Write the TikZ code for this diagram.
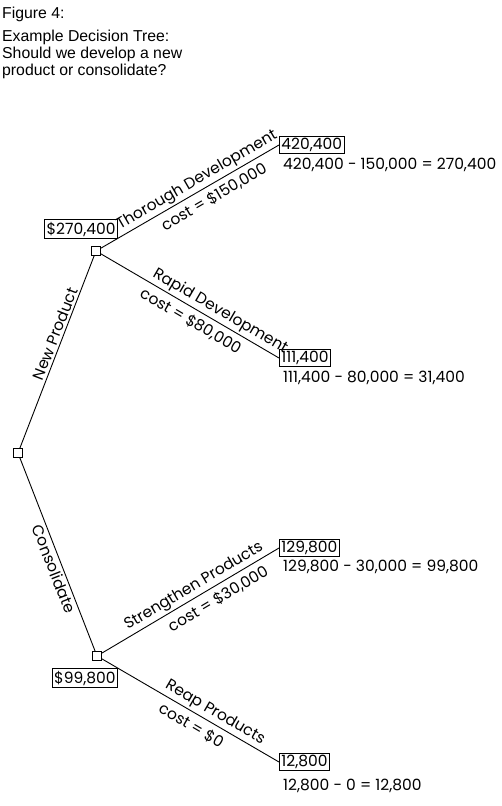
\documentclass[tikz,border=0pt]{standalone}
\usepackage{fontspec}
\setmainfont{Liberation Sans}
\newfontfamily\treefont{Poppins}
\usepackage{tikz}

\begin{document}
\begin{tikzpicture}[x=1pt,y=-1pt]
	\useasboundingbox (0,0) rectangle (502,806);
	\begin{scope}[every node/.style={font=\treefont\fontsize{15.5}{18}\selectfont},
		decision/.style={rectangle,draw,fill=white,minimum size=9pt,inner sep=0pt,line width=0.8pt},
		payoff/.style={rectangle,draw,line width=0.8pt,inner sep=2pt},
		branch/.style={line width=0.9pt},
		lbl/.style={sloped,inner sep=2pt},
		cost/.style={sloped,inner sep=5pt}]
	% titre
	\node (F) at (2,18) [anchor=base west,inner sep=0pt,font=\fontsize{15.8}{17}\selectfont] {Figure 4:};
	\node (T) at (2,30) [anchor=north west,inner sep=0pt,align=left,font=\fontsize{15.8}{17}\selectfont] {Example Decision Tree:\\Should we develop a new\\product or consolidate?};
	% description et nommage des noeuds
	\node (R) at (18,453) [decision] {};
	\node (A) at (96,251) [decision] {};
	\node (B) at (97,656) [decision] {};
	\node (VA) at (118,229) [payoff,anchor=east] {\$270,400};
	\node (VB) at (118,678) [payoff,anchor=east] {\$99,800};
	\node (L1) at (279,145) [payoff,anchor=west] {420,400};
	\node (L2) at (279,358) [payoff,anchor=west] {111,400};
	\node (L3) at (279,548) [payoff,anchor=west] {129,800};
	\node (L4) at (279,762) [payoff,anchor=west] {12,800};
	\node (E1) at (283,165) [anchor=west,inner sep=0pt] {420,400 - 150,000 = 270,400};
	\node (E2) at (283,378) [anchor=west,inner sep=0pt] {111,400 - 80,000 = 31,400};
	\node (E3) at (283,567) [anchor=west,inner sep=0pt] {129,800 - 30,000 = 99,800};
	\node (E4) at (283,786) [anchor=west,inner sep=0pt] {12,800 - 0 = 12,800};
	% branches
	\draw[branch] (R) -- node[lbl,above,pos=0.58] {New Product} (A);
	\draw[branch] (R) -- node[lbl,below,pos=0.56] {Consolidate} (B);
	\draw[branch] (A) -- node[lbl,above,pos=0.57] {Thorough Development}
		node[cost,below,pos=0.6] {cost = \$150,000} (L1.west);
	\draw[branch] (A) -- node[lbl,above,pos=0.64] {Rapid Development}
		node[cost,below,pos=0.54] {cost = \$80,000} (L2.west);
	\draw[branch] (B) -- node[lbl,above,pos=0.55] {Strengthen Products}
		node[cost,below,pos=0.62] {cost = \$30,000} (L3.west);
	\draw[branch] (B) -- node[lbl,above,pos=0.61] {Reap Products}
		node[cost,below,pos=0.54] {cost = \$0} (L4.west);
	\end{scope}
\end{tikzpicture}
\end{document}
